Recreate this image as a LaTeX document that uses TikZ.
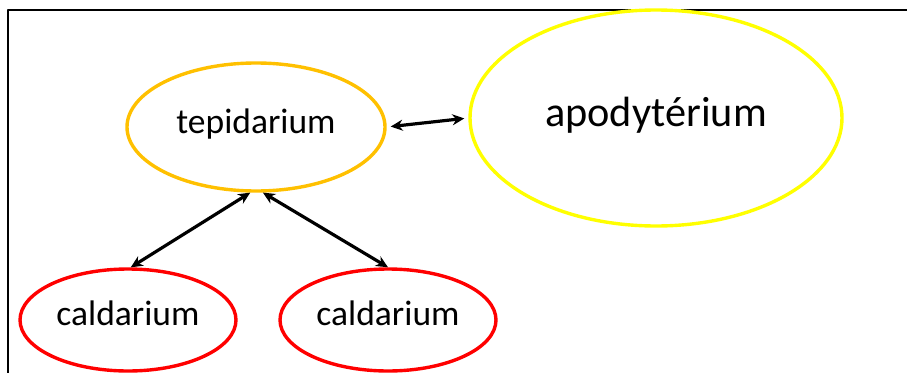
\documentclass[tikz,border=0pt]{standalone}
\usepackage{fontspec}
\setmainfont{Carlito}
\usetikzlibrary{shapes.geometric, arrows.meta}
\definecolor{tepcol}{HTML}{FFC000}
\definecolor{apocol}{HTML}{FFFF00}
\definecolor{calcol}{HTML}{FF0000}
\tikzset{
	room/.style={ellipse, draw, inner sep=0pt, line width=3.4pt, font=\fontsize{35.5}{40}\selectfont},
	link/.style={<->, line width=3.2pt}
}
\begin{document}
\begin{tikzpicture}[x=1pt, y=-1pt, line join=round, >={Stealth[length=12pt, width=11pt]}]
			\useasboundingbox (0,0) rectangle (907,372);
			\clip (0,0) rectangle (907,372);
			\draw[line width=2.8pt] (8,10) rectangle (930,400);
			
			\node[room, draw=tepcol, text depth=12pt, minimum width=258pt, minimum height=128pt] (tep) at (256,127) {tepidarium};
			\node[room, draw=apocol, text depth=12pt, minimum width=372pt, minimum height=216pt, font=\fontsize{42.3}{48}\selectfont] (apo) at (656,118) {apodytérium};
			\node[room, draw=calcol, text depth=14pt, minimum width=216pt, minimum height=102pt] (calA) at (128,320) {caldarium};
			\node[room, draw=calcol, text depth=14pt, minimum width=216pt, minimum height=102pt] (calB) at (388,320) {caldarium};
			
			\draw[link, shorten <=4pt, shorten >=4pt] (tep.east) -- (apo.west);
			\draw[link] (tep.-95) -- (calA.87);
			\draw[link] (tep.-84) -- (calB.north);
		\end{tikzpicture}
\end{document}
